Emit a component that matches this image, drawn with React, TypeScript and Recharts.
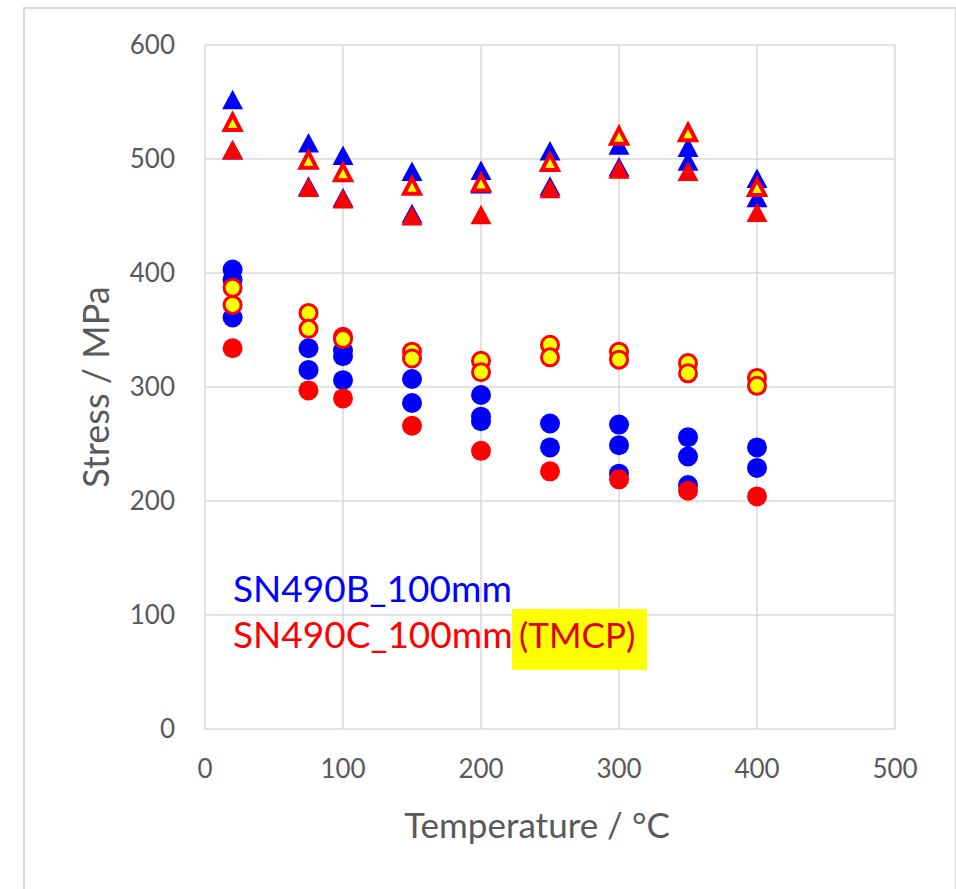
import { ScatterChart, Scatter, XAxis, YAxis, CartesianGrid } from "recharts";

// test temperatures (°C)
const temps = [20, 75, 100, 150, 200, 250, 300, 350, 400];

// yield / 0.2% proof stress (circles)
const bYieldA = [403, 334, 332, 307, 293, 268, 267, 256, 247];
const bYieldB = [394, 315, 327, 286, 274, 247, 249, 239, 229];
const bYieldC = [361, null, 306, null, 270, null, 224, 214, null];
const cYield = [334, 297, 290, 266, 244, 226, 219, 209, 204];
const tYieldA = [387, 365, 344, 331, 323, 337, 331, 321, 308];
const tYieldB = [372, 351, 342, 325, 313, 326, 324, 312, 301];

// tensile strength (triangles)
const bTensileA = [552, 514, 503, 489, 490, 507, 512, 510, 483];
const bTensileB = [508, 476, 466, 452, 478, 476, 493, 498, 466];
const cTensile = [508, 475, 465, 450, 451, 474, 491, 489, 453];
const tTensile = [532, 499, 488, 476, 479, 497, 520, 523, 475];

const xTicks = [0, 100, 200, 300, 400, 500];
const yTicks = [0, 100, 200, 300, 400, 500, 600];

const BLUE = "#0000ff";
const RED = "#ff0000";
const YELLOW = "#ffff00";
const GRAY = "#595959";
const FONT = "Lato, 'Open Sans', sans-serif";

const toPoints = (vals: (number | null)[]) =>
  temps.flatMap((t, i) => (vals[i] == null ? [] : [{ t, s: vals[i] }]));

const dot = (fill: string, stroke?: string) => (p: any) =>
  stroke ? (
    <circle cx={p.cx} cy={p.cy} r={8.5} fill={fill} stroke={stroke} strokeWidth={3} />
  ) : (
    <circle cx={p.cx} cy={p.cy} r={10} fill={fill} />
  );

const tri = (fill: string, stroke?: string) => (p: any) => {
  if (stroke) {
    const d = `M${p.cx},${p.cy - 8} L${p.cx + 8},${p.cy + 7.5} L${p.cx - 8},${p.cy + 7.5} Z`;
    return <path d={d} fill={fill} stroke={stroke} strokeWidth={4} strokeLinejoin="miter" />;
  }
  const d = `M${p.cx},${p.cy - 10} L${p.cx + 10.5},${p.cy + 9.5} L${p.cx - 10.5},${p.cy + 9.5} Z`;
  return <path d={d} fill={fill} />;
};

const XTitle = (props: any) => {
  const vb = props.viewBox;
  return (
    <text x={vb.x + vb.width / 2 - 13} y={838} textAnchor="middle" fill={GRAY} fontSize={35} fontFamily={FONT}>
      Temperature / °C
    </text>
  );
};

const YTitle = (props: any) => {
  const vb = props.viewBox;
  const cy = vb.y + vb.height / 2;
  return (
    <text
      x={95}
      y={cy}
      transform={`rotate(-90, 95, ${cy})`}
      textAnchor="middle"
      dominantBaseline="central"
      fill={GRAY}
      fontSize={36}
      fontFamily={FONT}
    >
      Stress / MPa
    </text>
  );
};

const series = [
  { name: "SN490B yield A", data: toPoints(bYieldA), shape: dot(BLUE) },
  { name: "SN490B yield B", data: toPoints(bYieldB), shape: dot(BLUE) },
  { name: "SN490B yield C", data: toPoints(bYieldC), shape: dot(BLUE) },
  { name: "SN490B tensile A", data: toPoints(bTensileA), shape: tri(BLUE) },
  { name: "SN490B tensile B", data: toPoints(bTensileB), shape: tri(BLUE) },
  { name: "SN490C yield", data: toPoints(cYield), shape: dot(RED) },
  { name: "SN490C tensile", data: toPoints(cTensile), shape: tri(RED) },
  { name: "TMCP yield A", data: toPoints(tYieldA), shape: dot(YELLOW, RED) },
  { name: "TMCP yield B", data: toPoints(tYieldB), shape: dot(YELLOW, RED) },
  { name: "TMCP tensile", data: toPoints(tTensile), shape: tri(YELLOW, RED) },
];

export default function App() {
  return (
    <div style={{ position: "absolute", left: 0, top: 0, width: 956, height: 889, overflow: "hidden", background: "#fff" }}>
      <div
        style={{
          position: "absolute",
          left: 23,
          top: 7,
          width: 934,
          height: 900,
          border: "2px solid #d9d9d9",
          boxSizing: "border-box",
        }}
      />
      <ScatterChart width={956} height={889} margin={{ top: 45, right: 61, bottom: 100, left: 0 }} style={{ position: "absolute", left: 0, top: 0 }}>
        <CartesianGrid stroke="#d9d9d9" strokeWidth={1.5} />
        <XAxis
          type="number"
          dataKey="t"
          domain={[0, 500]}
          ticks={xTicks}
          height={60}
          axisLine={false}
          tickLine={false}
          tickSize={0}
          tickMargin={31}
          tick={{ fill: GRAY, fontSize: 26, fontFamily: FONT }}
          label={<XTitle />}
        />
        <YAxis
          type="number"
          dataKey="s"
          domain={[0, 600]}
          ticks={yTicks}
          width={205}
          axisLine={false}
          tickLine={false}
          tickSize={0}
          tickMargin={30}
          tick={{ fill: GRAY, fontSize: 26, fontFamily: FONT }}
          label={<YTitle />}
        />
        {series.map((sr) => (
          <Scatter key={sr.name} name={sr.name} data={sr.data} shape={sr.shape} isAnimationActive={false} />
        ))}
      </ScatterChart>
      <svg width={956} height={889} style={{ position: "absolute", left: 0, top: 0, pointerEvents: "none" }}>
        <text x={233} y={602} fill={BLUE} fontSize={37} fontFamily={FONT}>
          SN490B_100mm
        </text>
        <text x={233} y={648} fill={RED} fontSize={37} fontFamily={FONT}>
          SN490C_100mm
        </text>
        <rect x={512} y={609} width={135} height={61} fill={YELLOW} />
        <text x={519} y={648} fill="#e00000" fontSize={35} fontFamily={FONT}>
          (TMCP)
        </text>
      </svg>
    </div>
  );
}
